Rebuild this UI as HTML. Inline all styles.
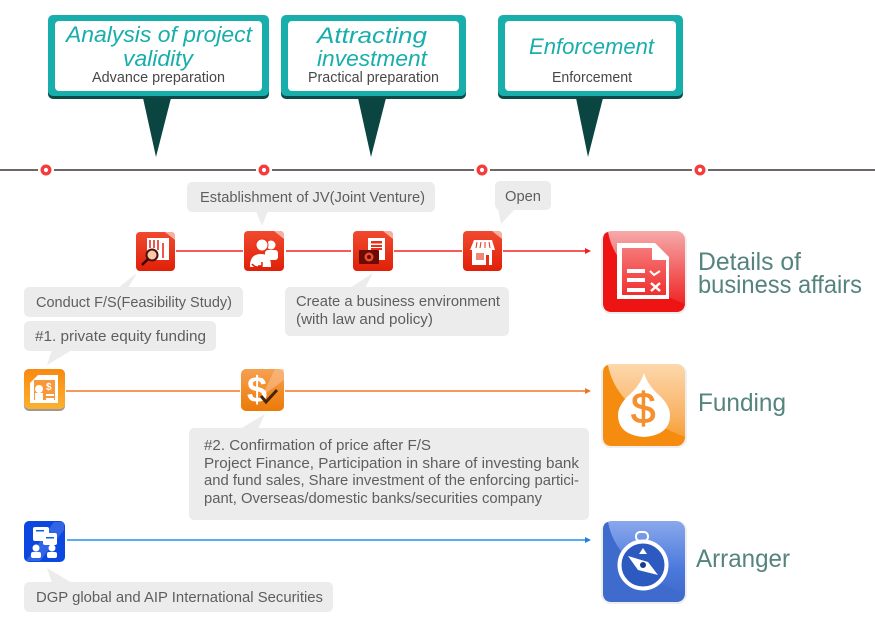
<!DOCTYPE html>
<html lang="en">
<head>
<meta charset="utf-8">
<title>Project process</title>
<style>
html,body{margin:0;padding:0;background:#fff}
svg{display:block}
text{font-family:"Liberation Sans",sans-serif}
.b{font-size:14.5px;fill:#5e5e5e}
.s{font-size:14.5px;fill:#484848}
.h{font-size:22px;fill:#18aeac;font-style:italic}
.l{font-size:25px;fill:#55837e}
</style>
</head>
<body>
<svg width="875" height="630" viewBox="0 0 875 630" xmlns="http://www.w3.org/2000/svg">
<defs>
<linearGradient id="r" x1="0" y1="0" x2="0" y2="1"><stop offset="0" stop-color="#f04a30"/><stop offset="1" stop-color="#e02008"/></linearGradient>
<linearGradient id="o" x1="0" y1="0" x2="0" y2="1"><stop offset="0" stop-color="#f6a050"/><stop offset="1" stop-color="#ec7a08"/></linearGradient>
<linearGradient id="oy" x1="0" y1="0" x2="0" y2="1"><stop offset="0" stop-color="#f88a10"/><stop offset="1" stop-color="#fcb030"/></linearGradient>
<linearGradient id="rb" x1="0" y1="0" x2="0" y2="1"><stop offset="0" stop-color="#f6aaaa"/><stop offset="0.55" stop-color="#f25858"/><stop offset="1" stop-color="#ee1818"/></linearGradient>
<linearGradient id="rd" x1="0" y1="0" x2="0" y2="1"><stop offset="0" stop-color="#f67878"/><stop offset="1" stop-color="#f03030"/></linearGradient>
<linearGradient id="ob" x1="0" y1="0" x2="0" y2="1"><stop offset="0" stop-color="#fcd8ac"/><stop offset="0.6" stop-color="#fab468"/><stop offset="1" stop-color="#f69820"/></linearGradient>
<linearGradient id="bb" x1="0" y1="0" x2="0" y2="1"><stop offset="0" stop-color="#8aa8ec"/><stop offset="0.6" stop-color="#4a78dc"/><stop offset="1" stop-color="#3f68c8"/></linearGradient>
</defs>

<!-- callouts -->
<rect x="48" y="17" width="221" height="82" rx="5" fill="#0b4a46"/>
<rect x="48" y="15" width="221" height="81" rx="5" fill="#17aeac"/>
<rect x="55" y="21" width="207" height="70" rx="4" fill="#fff"/>
<polygon points="143,98 171,98 156,157" fill="#0a4541"/>
<rect x="281" y="17" width="185" height="82" rx="5" fill="#0b4a46"/>
<rect x="281" y="15" width="185" height="81" rx="5" fill="#17aeac"/>
<rect x="288" y="21" width="171" height="70" rx="4" fill="#fff"/>
<polygon points="358,98 386,98 371,157" fill="#0a4541"/>
<rect x="498" y="17" width="185" height="82" rx="5" fill="#0b4a46"/>
<rect x="498" y="15" width="185" height="81" rx="5" fill="#17aeac"/>
<rect x="505" y="21" width="171" height="70" rx="4" fill="#fff"/>
<polygon points="576,98 603,98 588,157" fill="#0a4541"/>

<text class="h" x="66" y="42" textLength="186" lengthAdjust="spacingAndGlyphs">Analysis of project</text>
<text class="h" x="123" y="66" textLength="70" lengthAdjust="spacingAndGlyphs">validity</text>
<text class="s" x="92" y="82" textLength="133" lengthAdjust="spacingAndGlyphs">Advance preparation</text>
<text class="h" x="317" y="43" textLength="110" lengthAdjust="spacingAndGlyphs">Attracting</text>
<text class="h" x="317" y="66" textLength="110" lengthAdjust="spacingAndGlyphs">investment</text>
<text class="s" x="308" y="82" textLength="131" lengthAdjust="spacingAndGlyphs">Practical preparation</text>
<text class="h" x="529" y="54" textLength="125" lengthAdjust="spacingAndGlyphs">Enforcement</text>
<text class="s" x="552" y="82" textLength="80" lengthAdjust="spacingAndGlyphs">Enforcement</text>

<!-- timeline -->
<line x1="0" y1="170" x2="875" y2="170" stroke="#6e666a" stroke-width="2"/>
<g fill="#fff">
<circle cx="46" cy="170" r="8"/><circle cx="264" cy="170" r="8"/><circle cx="482" cy="170" r="8"/><circle cx="700" cy="170" r="8"/>
</g>
<g fill="#fff" stroke="#f53c3c" stroke-width="3.400">
<circle cx="46" cy="170" r="3.800"/><circle cx="264" cy="170" r="3.800"/><circle cx="482" cy="170" r="3.800"/><circle cx="700" cy="170" r="3.800"/>
</g>

<!-- connectors -->
<g stroke="#f75a5a" stroke-width="2">
<line x1="176" y1="251" x2="243" y2="251"/>
<line x1="286" y1="251" x2="351" y2="251"/>
<line x1="394" y1="251" x2="462" y2="251"/>
<line x1="503" y1="251" x2="586" y2="251"/>
</g>
<polygon points="585,248 591,251 585,254" fill="#f02020"/>
<g stroke="#f59a5a" stroke-width="2">
<line x1="66" y1="391" x2="240" y2="391"/>
<line x1="285" y1="391" x2="586" y2="391"/>
</g>
<polygon points="585,388 591,391 585,394" fill="#e87820"/>
<line x1="67" y1="540" x2="586" y2="540" stroke="#5aaef0" stroke-width="2"/>
<polygon points="585,537 591,540 585,543" fill="#2080e0"/>

<!-- bubbles -->
<g fill="#ececec">
<rect x="187" y="182" width="248" height="30" rx="5"/><polygon points="256,211 268,211 262,226"/>
<rect x="495" y="181" width="56" height="29" rx="5"/><polygon points="498,209 515,209 501,224"/>
<rect x="24" y="287" width="219" height="30" rx="5"/><polygon points="118,288 128,288 137,273"/>
<rect x="285" y="287" width="224" height="49" rx="5"/><polygon points="350,288 365,288 373,273"/>
<rect x="24" y="321" width="192" height="30" rx="5"/><polygon points="52,350 72,350 47,365"/>
<rect x="189" y="428" width="400" height="92" rx="5"/><polygon points="240,429 258,429 265,414"/>
<rect x="24" y="582" width="309" height="30" rx="5"/><polygon points="52,583 72,583 47,568"/>
</g>
<text class="b" x="200" y="202" textLength="225" lengthAdjust="spacingAndGlyphs">Establishment of JV(Joint Venture)</text>
<text class="b" x="505" y="201" textLength="36" lengthAdjust="spacingAndGlyphs">Open</text>
<text class="b" x="36" y="307" textLength="196" lengthAdjust="spacingAndGlyphs">Conduct F/S(Feasibility Study)</text>
<text class="b" x="296" y="306" textLength="204" lengthAdjust="spacingAndGlyphs">Create a business environment</text>
<text class="b" x="296" y="324" textLength="137" lengthAdjust="spacingAndGlyphs">(with law and policy)</text>
<text class="b" x="35" y="341" textLength="171" lengthAdjust="spacingAndGlyphs">#1. private equity funding</text>
<text class="b" x="204" y="450" textLength="227" lengthAdjust="spacingAndGlyphs">#2. Confirmation of price after F/S</text>
<text class="b" x="204" y="468" textLength="375" lengthAdjust="spacingAndGlyphs">Project Finance, Participation in share of investing bank</text>
<text class="b" x="204" y="485" textLength="375" lengthAdjust="spacingAndGlyphs">and fund sales, Share investment of the enforcing partici-</text>
<text class="b" x="204" y="503" textLength="338" lengthAdjust="spacingAndGlyphs">pant, Overseas/domestic banks/securities company</text>
<text class="b" x="36" y="602" textLength="287" lengthAdjust="spacingAndGlyphs">DGP global and AIP International Securities</text>

<!-- small red icons -->
<g>
<rect x="136" y="232" width="39" height="39" rx="4" fill="url(#r)"/>
<path d="M165 232 h6 q4 0 4 4 v4z" fill="#f6b0a0"/>
<rect x="147" y="238" width="22" height="22" fill="#fff"/>
<g stroke="#e02010" stroke-width="1.500"><line x1="150" y1="240" x2="150" y2="248"/><line x1="154" y1="240" x2="154" y2="248"/><line x1="158" y1="240" x2="158" y2="250"/><line x1="163" y1="243" x2="163" y2="258"/></g>
<circle cx="152" cy="255" r="5.500" fill="#f8c8a8" stroke="#501008" stroke-width="2"/>
<line x1="148" y1="259" x2="142" y2="265" stroke="#300" stroke-width="2.500"/>
</g>
<g>
<rect x="244" y="231" width="40" height="40" rx="4" fill="url(#r)"/>
<path d="M274 231 h6 q4 0 4 4 v4z" fill="#f6b0a0"/>
<circle cx="271" cy="245" r="4.500" fill="#fff"/><rect x="265" y="250" width="13" height="10" rx="3" fill="#fff"/>
<circle cx="262" cy="245" r="6" fill="#fff" stroke="#e83018"/><path d="M250 266 q0-12 11-12 q10 0 10 12 v1 h-21z" fill="#fff"/>
<path d="M252 264 q4 5 10 2 M262 262 v4 h-4" fill="none" stroke="#d82010" stroke-width="1.500"/>
</g>
<g>
<rect x="353" y="231" width="40" height="40" rx="4" fill="url(#r)"/>
<path d="M383 231 h6 q4 0 4 4 v4z" fill="#f6b0a0"/>
<rect x="368" y="238" width="17" height="22" fill="#fff"/>
<rect x="371" y="241" width="11" height="2.500" fill="#e83018"/><rect x="371" y="245" width="11" height="2" fill="#e83018"/><rect x="371" y="248" width="11" height="2" fill="#e83018"/>
<rect x="359" y="250" width="20" height="14" rx="1" fill="#6c0a04"/><circle cx="369" cy="257" r="4.500" fill="#e85030"/><circle cx="369" cy="257" r="2" fill="#6c0a04"/>
</g>
<g>
<rect x="463" y="231" width="39" height="40" rx="4" fill="url(#r)"/>
<path d="M492 231 h6 q4 0 4 4 v4z" fill="#f6b0a0"/>
<path d="M474 240 h18 l3 10 h-25z" fill="#fff"/>
<g stroke="#e83018"><line x1="477" y1="242" x2="476" y2="248"/><line x1="481" y1="242" x2="480" y2="248"/><line x1="485" y1="242" x2="485" y2="248"/><line x1="489" y1="242" x2="490" y2="248"/></g>
<rect x="472" y="250" width="20" height="15" fill="#fff"/>
<rect x="476" y="253" width="8" height="7" fill="#f08878"/><rect x="486" y="255" width="3" height="10" fill="#e83018"/>
</g>

<!-- small orange icons -->
<g>
<rect x="24" y="369" width="41" height="42" rx="5" fill="#999"/>
<rect x="24" y="369" width="41" height="40" rx="5" fill="url(#oy)"/>
<path d="M30 383 l8-8 h20 v28 h-28z" fill="#fff"/>
<rect x="34" y="380" width="21" height="20" fill="#f8983a"/>
<circle cx="39" cy="389" r="4" fill="#fff"/><rect x="35" y="393" width="8" height="7" fill="#fff"/>
<rect x="46" y="394" width="8" height="2" fill="#fff"/><rect x="46" y="398" width="8" height="2" fill="#fff"/>
<text x="46" y="390" font-size="10" font-weight="bold" fill="#fff">$</text>
</g>
<g>
<rect x="241" y="369" width="43" height="42" rx="5" fill="url(#o)"/>
<polygon points="275,369 284,369 284,380 262,396" fill="#f8c090" opacity=".6"/>
<text x="247" y="402" font-size="36" font-weight="bold" fill="#fff">$</text>
<path d="M261 396 l5 6 l11 -12" fill="none" stroke="#4a2408" stroke-width="3"/>
</g>

<!-- small blue icon -->
<g>
<rect x="24" y="521" width="41" height="41" rx="5" fill="#0c48e0"/>
<polygon points="54,522 64,522 64,530 40,561 26,561" fill="#7c9cf0" opacity=".35"/>
<rect x="33" y="527" width="16" height="14" rx="2" fill="#fff"/>
<rect x="43" y="533" width="14" height="12" rx="2" fill="#fff"/>
<rect x="36" y="530" width="8" height="1.500" fill="#1060e0"/><rect x="46" y="537" width="8" height="1.500" fill="#1060e0"/>
<circle cx="36" cy="548" r="3.500" fill="#fff"/><rect x="31" y="552" width="10" height="6" rx="2" fill="#fff"/>
<circle cx="52" cy="548" r="3.500" fill="#fff"/><rect x="47" y="552" width="10" height="6" rx="2" fill="#fff"/>
</g>

<!-- big red icon -->
<g>
<rect x="601" y="231" width="86" height="83" rx="10" fill="#eee"/>
<rect x="603" y="231" width="82" height="81" rx="9" fill="url(#rb)"/>
<path d="M603 240 q0-7 5-8 q8 45 77 72 q-1 8-9 8 h-64 q-9 0-9-9z" fill="#ee1414"/>
<path d="M617 243 h38 l14 14 v42 h-52z" fill="#fff"/>
<path d="M622 248 h30 v12 h14 v35 h-44z" fill="url(#rd)"/>
<g fill="#fff"><rect x="627" y="269" width="18" height="4"/><rect x="627" y="278" width="18" height="4"/><rect x="627" y="288" width="18" height="4"/></g>
<path d="M650 271 l4 4 l6 -4" fill="none" stroke="#fff" stroke-width="2"/>
<path d="M651 283 l9 8 M660 283 l-9 8" stroke="#fff" stroke-width="2.500"/>
</g>

<!-- big orange icon -->
<g>
<rect x="601" y="364" width="86" height="84" rx="10" fill="#eee"/>
<rect x="603" y="364" width="82" height="82" rx="9" fill="url(#ob)"/>
<path d="M603 373 q0-7 5-8 q8 45 77 72 q-1 9-9 9 h-64 q-9 0-9-9z" fill="#f58c10"/>
<path d="M644 373 q4 13 16 23 q10 10 10 19 q0 20 -26 22 q-26-2-26-22 q0-9 10-19 q12-10 16-23z" fill="#fff"/>
<text x="631" y="423" font-size="44" fill="#f59030" stroke="#f59030" stroke-width=".8">$</text>
</g>

<!-- big blue icon -->
<g>
<rect x="601" y="521" width="86" height="83" rx="10" fill="#eee"/>
<rect x="603" y="521" width="82" height="81" rx="9" fill="url(#bb)"/>
<path d="M603 530 q0-7 5-8 q8 45 77 72 q-1 8-9 8 h-64 q-9 0-9-9z" fill="#3f6ccc"/>
<rect x="636" y="532" width="12" height="9" rx="4" fill="none" stroke="#fff" stroke-width="2"/>
<circle cx="643" cy="565" r="23.500" fill="#2c5ac0" stroke="#fff" stroke-width="4"/>
<polygon points="628,556 648,562 658,575 638,570" fill="#fff"/>
<circle cx="643" cy="565" r="3" fill="#1c3a90"/>
<polygon points="643,548 647,554 639,554" fill="#fff"/>
</g>

<!-- labels -->
<text class="l" x="698" y="270" textLength="103" lengthAdjust="spacingAndGlyphs">Details of</text>
<text class="l" x="698" y="293" textLength="164" lengthAdjust="spacingAndGlyphs">business affairs</text>
<text class="l" x="698" y="411" textLength="88" lengthAdjust="spacingAndGlyphs">Funding</text>
<text class="l" x="696" y="567" textLength="94" lengthAdjust="spacingAndGlyphs">Arranger</text>
</svg>
</body>
</html>
